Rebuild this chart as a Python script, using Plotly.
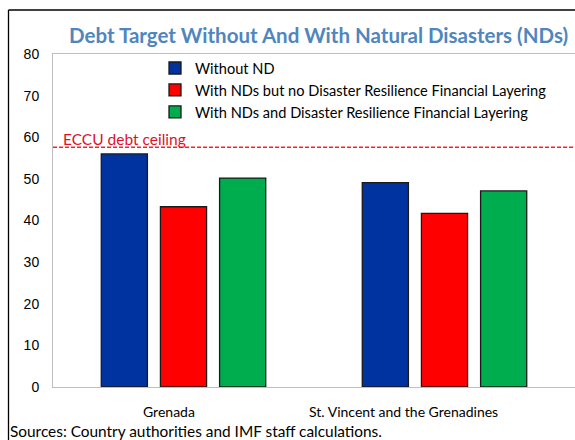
import plotly.graph_objects as go

# Countries on the category axis
countries = ["Grenada", "St. Vincent and the Grenadines"]

# Debt target (% of GDP) under each scenario
without_nd = [56.0, 49.1]
with_nd_no_layering = [43.3, 41.7]
with_nd_and_layering = [50.2, 47.1]

series_names = [
    "Without ND",
    "With NDs but no Disaster Resilience Financial Layering",
    "With NDs and Disaster Resilience Financial Layering",
]
series_colors = ["#0033a0", "#ff0000", "#00ad4e"]

eccu_ceiling = 57.6
y_ticks = [0, 10, 20, 30, 40, 50, 60, 70, 80]

W, H = 575, 440
L, R, T, B = 53, 0, 54, 53
pw, ph = W - L - R, H - T - B


def px_x(px):
    return (px - L) / pw


def px_y(py):
    return (H - B - py) / ph


fig = go.Figure()
for name, vals, col in zip(
    series_names, [without_nd, with_nd_no_layering, with_nd_and_layering], series_colors
):
    fig.add_trace(
        go.Bar(
            x=countries,
            y=vals,
            name=name,
            marker=dict(color=col, line=dict(color="#1a1a1a", width=1.3)),
        )
    )

# ECCU debt ceiling reference line
fig.add_shape(
    type="line", xref="paper", yref="y", x0=0, x1=1, y0=eccu_ceiling, y1=eccu_ceiling,
    line=dict(color="#ff2020", width=1.3, dash="4px,2px"),
)
fig.add_annotation(
    xref="paper", yref="y", x=px_x(61), y=eccu_ceiling, xanchor="left", yanchor="bottom",
    text="ECCU debt ceiling", showarrow=False, yshift=-3,
    font=dict(family="Lato", size=15.5, color="#e0102a"),
)

# Outer frame lines (left and top)
fig.add_shape(
    type="line", xref="paper", yref="paper", x0=px_x(8.5), x1=px_x(8.5),
    y0=px_y(10), y1=px_y(445), line=dict(color="#000000", width=1.3),
)
fig.add_shape(
    type="line", xref="paper", yref="paper", x0=px_x(8.5), x1=px_x(580),
    y0=px_y(10), y1=px_y(10), line=dict(color="#000000", width=1.3),
)

# Title and source note
fig.add_annotation(
    xref="paper", yref="paper", x=px_x(318), y=px_y(35), xanchor="center", yanchor="middle",
    text="<b>Debt Target Without And With Natural Disasters (NDs)</b>", showarrow=False,
    font=dict(family="Lato", size=20.5, color="#4f86bd"),
)
fig.add_annotation(
    xref="paper", yref="paper", x=px_x(8), y=px_y(431), xanchor="left", yanchor="middle",
    text="Sources: Country authorities and IMF staff calculations.", showarrow=False,
    font=dict(family="Lato", size=15.4, color="#000000"),
)

# Category labels under the groups
label_shifts = [-15, -41]
for c, s in zip(countries, label_shifts):
    fig.add_annotation(
        xref="x", yref="paper", x=c, y=px_y(411), xanchor="center", yanchor="middle",
        text=c, showarrow=False, xshift=s,
        font=dict(family="Lato", size=14, color="#000000"),
    )

fig.update_layout(
    width=W, height=H,
    margin=dict(l=L, r=R, t=T, b=B),
    paper_bgcolor="white", plot_bgcolor="white",
    barmode="group", bargap=0.32, bargroupgap=0.22,
    showlegend=True,
    legend=dict(
        x=px_x(155), y=px_y(52), xanchor="left", yanchor="top",
        bgcolor="rgba(0,0,0,0)", font=dict(family="Lato", size=14.6, color="#000000"),
        tracegroupgap=0, itemwidth=30, traceorder="normal",
    ),
    font=dict(family="Liberation Sans", size=14, color="#000000"),
    xaxis=dict(
        showline=True, linecolor="#bfbfbf", linewidth=1, mirror=True,
        ticks="", showticklabels=False, showgrid=False,
    ),
    yaxis=dict(
        range=[0, 80], tickvals=y_ticks, showgrid=False, zeroline=False,
        showline=True, linecolor="#bfbfbf", linewidth=1, mirror=True,
        ticks="", ticklabelstandoff=10, tickfont=dict(family="Liberation Sans", size=14),
    ),
)

fig.write_html("out.html")
